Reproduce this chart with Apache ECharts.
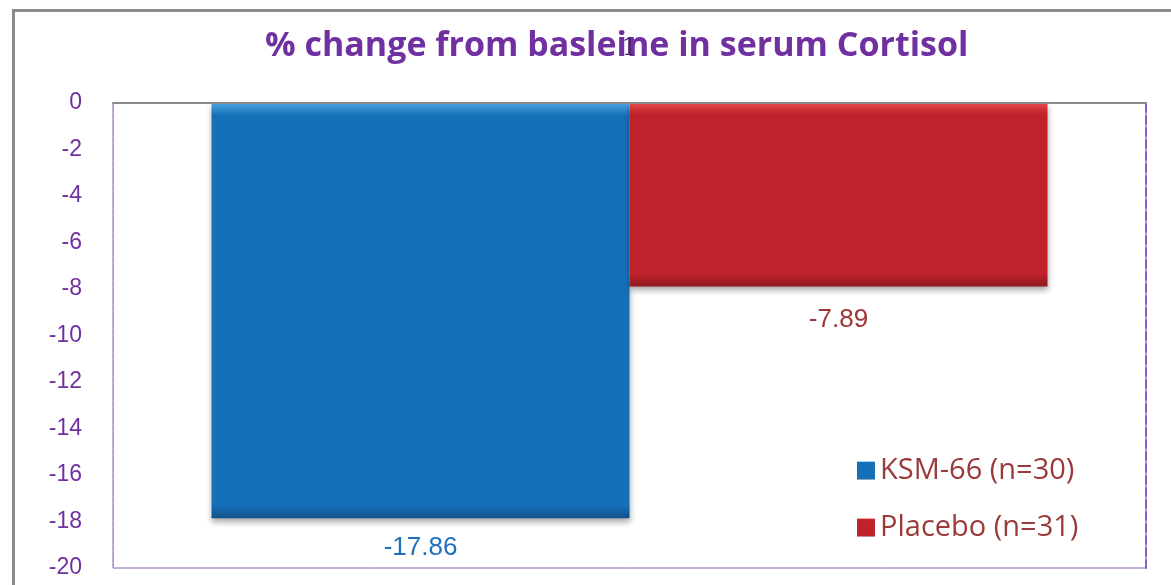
<!DOCTYPE html>
<html>
<head>
<meta charset="utf-8">
<script src="https://cdn.jsdelivr.net/npm/echarts@6/dist/echarts.min.js"></script>
<style>
  html, body { margin: 0; padding: 0; background: #fff; overflow: hidden; }
  #frame { position: absolute; left: 12px; top: 9px; width: 1200px; height: 600px; border: 3px solid #8c8c8c; }
  #myChart { position: absolute; left: 0; top: 0; width: 1171px; height: 585px; }
</style>
</head>
<body>
<div id="frame"></div>
<div id="myChart"></div>
<script>
  // chart values
  var categories = ['1'];
  var seriesNames = ['KSM-66 (n=30)', 'Placebo (n=31)'];
  var ksmValues = [-17.86];
  var placeboValues = [-7.89];
  var yTicks = { min: -20, max: 0, interval: 2 };

  var purple = '#7030a0';

  var myChart = echarts.init(document.getElementById('myChart'));
  myChart.setOption({
    animation: false,
    title: {
      text: '% change from basleine in serum Cortisol',
      left: 260,
      top: 24,
      z: 1,
      textStyle: { color: purple, fontSize: 34, fontWeight: 'bold', fontFamily: 'Open Sans' }
    },
    grid: {
      left: 113, right: 25, top: 103, bottom: 17,
      show: true, borderColor: '#8e5cc0', borderWidth: 1
    },
    legend: {
      orient: 'vertical',
      left: 852, top: 451,
      itemGap: 28,
      itemWidth: 18, itemHeight: 18,
      icon: 'rect',
      textStyle: { color: '#9b3a3a', fontSize: 29, fontFamily: 'Open Sans' },
      data: seriesNames
    },
    xAxis: {
      type: 'category',
      position: 'top',
      z: 10,
      data: categories,
      axisLine: { show: true, lineStyle: { color: '#8a8a8a', width: 2 } },
      axisTick: { show: false },
      axisLabel: { margin: 42, color: '#4a2070', fontSize: 24, fontFamily: 'DejaVu Serif' }
    },
    yAxis: [{
      type: 'value',
      min: yTicks.min, max: yTicks.max, interval: yTicks.interval,
      axisLine: { show: true, lineStyle: { color: '#a0a0a0', type: 'dashed', width: 1 } },
      axisTick: { show: false },
      splitLine: { show: false },
      axisLabel: { margin: 31, color: purple, fontSize: 23, fontFamily: 'Liberation Sans' }
    }, {
      type: 'value',
      position: 'right',
      min: yTicks.min, max: yTicks.max, interval: yTicks.interval,
      axisLine: { show: true, lineStyle: { color: '#8e5cc0', type: 'dashed', width: 2 } },
      axisTick: { show: false },
      axisLabel: { show: false },
      splitLine: { show: false }
    }],
    series: [
      {
        name: seriesNames[0],
        type: 'bar',
        data: ksmValues,
        barWidth: 418,
        barGap: '0%',
        itemStyle: {
          color: new echarts.graphic.LinearGradient(0, 0, 0, 1, [
            { offset: 0, color: '#4aa6e0' },
            { offset: 0.03, color: '#1670b8' },
            { offset: 0.97, color: '#1670b8' },
            { offset: 1, color: '#12508a' }
          ]),
          shadowColor: 'rgba(0,0,0,0.35)', shadowBlur: 6, shadowOffsetY: 4
        },
        label: {
          show: true, position: 'bottom', distance: 17,
          color: '#1f6fbf', fontSize: 26, fontFamily: 'Liberation Sans'
        }
      },
      {
        name: seriesNames[1],
        type: 'bar',
        data: placeboValues,
        barWidth: 418,
        itemStyle: {
          color: new echarts.graphic.LinearGradient(0, 0, 0, 1, [
            { offset: 0, color: '#e84a4a' },
            { offset: 0.06, color: '#c0212b' },
            { offset: 0.93, color: '#c0212b' },
            { offset: 1, color: '#8e1a1f' }
          ]),
          shadowColor: 'rgba(0,0,0,0.35)', shadowBlur: 6, shadowOffsetY: 4
        },
        label: {
          show: true, position: 'bottom', distance: 20,
          color: '#a03535', fontSize: 26, fontFamily: 'Liberation Sans'
        }
      }
    ]
  });
</script>
</body>
</html>
